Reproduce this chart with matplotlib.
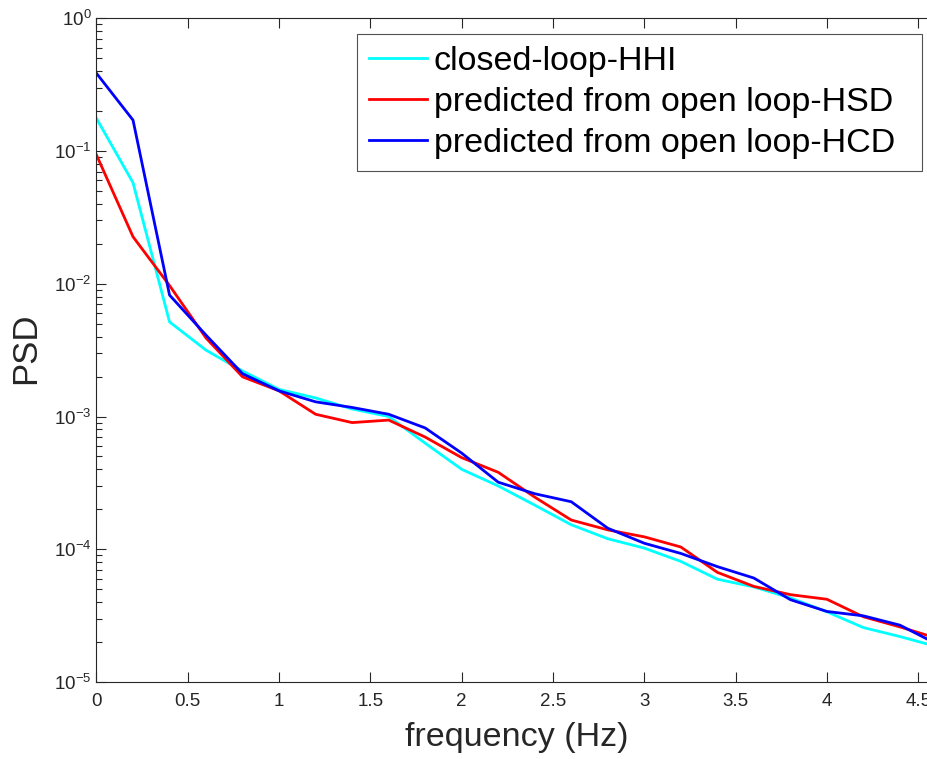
import numpy as np
import matplotlib
matplotlib.use("Agg")
import matplotlib.pyplot as plt
from matplotlib.ticker import LogLocator

plt.rcParams['font.family'] = ['Liberation Sans', 'DejaVu Sans']
plt.rcParams['mathtext.fontset'] = 'custom'
plt.rcParams['mathtext.rm'] = 'Liberation Sans'
plt.rcParams['mathtext.it'] = 'Liberation Sans:italic'

freq = [0.0, 0.2, 0.4, 0.6, 0.8, 1.0, 1.2, 1.4, 1.6, 1.8, 2.0, 2.2, 2.4,
        2.6, 2.8, 3.0, 3.2, 3.4, 3.6, 3.8, 4.0, 4.2, 4.4, 4.6]

closed_hhi = [0.176, 0.0577, 0.00516, 0.00316, 0.0022, 0.0016, 0.00138, 0.00114,
              0.00100, 0.00063, 0.00040, 0.00030, 0.000215, 0.000153, 0.000120,
              0.000102, 8.1e-5, 5.95e-5, 5.2e-5, 4.3e-5, 3.38e-5, 2.57e-5, 2.2e-5, 1.85e-5]

pred_hsd = [0.0933, 0.0226, 0.0097, 0.0039, 0.00199, 0.00156, 0.00104, 0.00090,
            0.00094, 0.00070, 0.00049, 0.00038, 0.000247, 0.000166, 0.000140,
            0.000124, 0.000104, 6.7e-5, 5.25e-5, 4.55e-5, 4.2e-5, 3.1e-5, 2.6e-5, 2.14e-5]

pred_hcd = [0.385, 0.171, 0.00822, 0.0041, 0.0021, 0.00156, 0.00129, 0.00117,
            0.00104, 0.00082, 0.00053, 0.00032, 0.000262, 0.000228, 0.000144,
            0.000111, 9.3e-5, 7.4e-5, 6.07e-5, 4.17e-5, 3.4e-5, 3.15e-5, 2.68e-5, 1.94e-5]

xtick_vals = [0, 0.5, 1, 1.5, 2, 2.5, 3, 3.5, 4, 4.5]
xtick_labels = ['0', '0.5', '1', '1.5', '2', '2.5', '3', '3.5', '4', '4.5']

labels = ['closed-loop-HHI', 'predicted from open loop-HSD', 'predicted from open loop-HCD']
colors = ['#00FFFF', '#FF0000', '#0000FF']

W, H = 928, 759
fig = plt.figure(figsize=(W / 100, H / 100), dpi=100)
ax_l, ax_r, ax_t, ax_b = 96.5, 96.5 + 5 * 182.6, 18.3, 682
ax = fig.add_axes([ax_l / W, (H - ax_b) / H, (ax_r - ax_l) / W, (ax_b - ax_t) / H])

for ys, c, lab in zip([closed_hhi, pred_hsd, pred_hcd], colors, labels):
    ax.plot(freq, ys, color=c, lw=2.0, label=lab)

ax.set_yscale('log')
ax.set_ylim(1e-5, 1)
ax.set_xlim(0, 5)
ax.set_xticks(xtick_vals)
ax.set_xticklabels(xtick_labels)
ax.yaxis.set_major_locator(LogLocator(base=10, numticks=10))
ax.yaxis.set_minor_locator(LogLocator(base=10, subs=np.arange(2, 10), numticks=20))

axc = '#262626'
for s in ax.spines.values():
    s.set_color(axc)
    s.set_linewidth(0.8)
ax.tick_params(which='both', direction='in', top=True, right=True, colors=axc,
               labelsize=13.5, width=0.8)
ax.tick_params(which='major', length=7)
ax.tick_params(which='minor', length=4)
ax.tick_params(axis='x', which='minor', top=False, bottom=False)
ax.tick_params(axis='x', pad=8)

aw, ah = ax_r - ax_l, ax_b - ax_t
ax.set_xlabel('frequency (Hz)', fontsize=24.5, color=axc)
ax.xaxis.set_label_coords((517 - ax_l) / aw, -(722 - ax_b) / ah)
ax.set_ylabel('PSD', fontsize=25, color=axc)
ax.yaxis.set_label_coords(-(ax_l - 42) / aw, (ax_b - 348.5) / ah)

leg = fig.legend(loc='upper left',
                 bbox_to_anchor=(357 / W, 1 - 34 / H, (922 - 357) / W, 0.0001),
                 mode='expand',
                 fontsize=24.5, frameon=True, fancybox=False, edgecolor=axc,
                 handlelength=1.7, handletextpad=0.2, borderpad=0.35,
                 labelspacing=0.3, borderaxespad=0)
leg.get_frame().set_linewidth(0.8)

fig.savefig('out.png', dpi=100)
